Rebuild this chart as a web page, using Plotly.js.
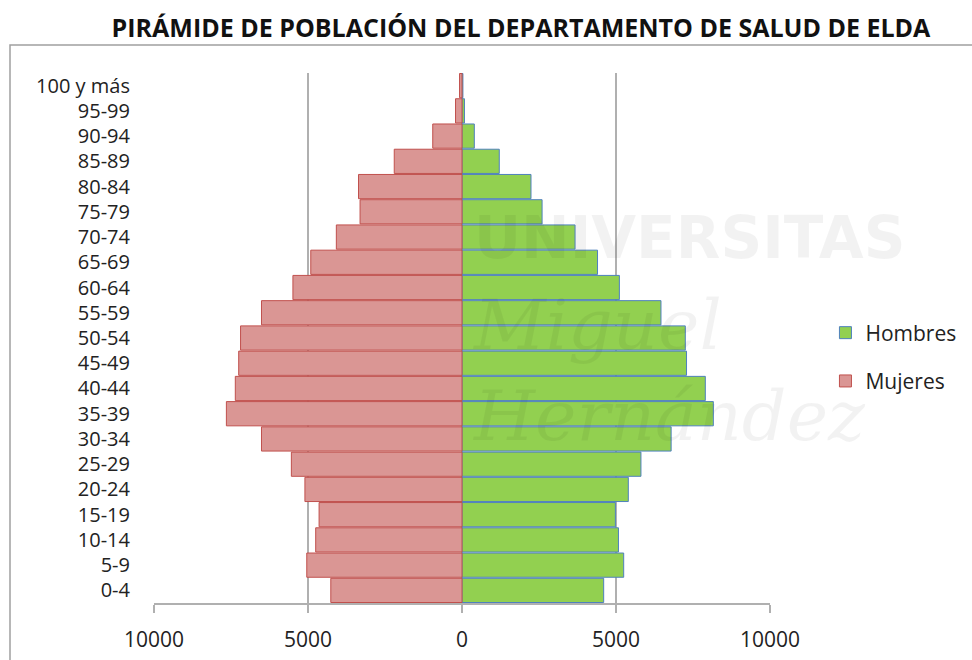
<!DOCTYPE html>
<html>
<head>
<meta charset="utf-8">
<script src="https://cdn.plot.ly/plotly-3.0.1.min.js"></script>
<style>html,body{margin:0;padding:0;background:#fff;}#chart{width:972px;height:660px;}</style>
</head>
<body>
<div id="chart"></div>
<script>
// Age groups, bottom to top
const ageGroups = ["0-4","5-9","10-14","15-19","20-24","25-29","30-34","35-39","40-44","45-49","50-54","55-59","60-64","65-69","70-74","75-79","80-84","85-89","90-94","95-99","100 y más"];
const hombres = [4600,5250,5080,4980,5400,5810,6790,8160,7900,7290,7250,6460,5110,4400,3670,2600,2240,1210,400,80,30];
const mujeres = [4260,5040,4750,4640,5100,5540,6510,7650,7360,7250,7190,6510,5490,4910,4080,3310,3360,2200,950,210,80];
const tickVals = [-10000,-5000,0,5000,10000];
const tickText = ["10000","5000","0","5000","10000"];

const fontFam = "Open Sans, Noto Sans, sans-serif";

const traces = [
  {
    type: "bar", orientation: "h", name: "Hombres",
    y: ageGroups, x: hombres,
    marker: {color: "rgb(146,208,80)", line: {color: "rgb(79,129,189)", width: 1}},
    legendgroup: "h", hoverinfo: "skip"
  },
  {
    type: "bar", orientation: "h", name: "Mujeres",
    y: ageGroups, x: mujeres.map(v => -v),
    marker: {color: "rgb(218,150,148)", line: {color: "rgb(192,80,77)", width: 1}},
    legendgroup: "m", hoverinfo: "skip"
  }
];

const layout = {
  width: 972, height: 660,
  margin: {l: 154, r: 202, t: 73, b: 57, autoexpand: false},
  paper_bgcolor: "#fff", plot_bgcolor: "rgba(0,0,0,0)",
  barmode: "overlay", bargap: 0.04,
  showlegend: true,
  font: {family: fontFam, color: "#222", size: 20},
  title: {
    text: "<b>PIRÁMIDE DE POBLACIÓN DEL DEPARTAMENTO DE SALUD DE ELDA</b>",
    font: {family: fontFam, size: 25, color: "#111"},
    x: 521/972, xanchor: "center", xref: "container",
    y: 1 - 28/660, yanchor: "middle", yref: "container"
  },
  xaxis: {
    range: [-10000, 10000], tickmode: "array", tickvals: tickVals, ticktext: tickText,
    showgrid: true, gridcolor: "#b0b0b0", gridwidth: 1.5,
    zeroline: false, showline: true, linecolor: "#b0b0b0", linewidth: 1.5,
    ticks: "outside", ticklen: 8, tickcolor: "#b0b0b0", tickwidth: 1.5,
    tickfont: {family: fontFam, size: 21, color: "#222"},
    ticklabelstandoff: 9, fixedrange: true
  },
  yaxis: {
    type: "category", categoryorder: "array", categoryarray: ageGroups,
    tickmode: "array", tickvals: ageGroups,
    showgrid: false, zeroline: false, showline: false, ticks: "",
    tickfont: {family: fontFam, size: 20, color: "#222"},
    ticklabelstandoff: 23, fixedrange: true
  },
  legend: {
    x: 1.09, xanchor: "left", y: (603-357)/530, yanchor: "middle",
    font: {family: fontFam, size: 21, color: "#222"},
    traceorder: "grouped", tracegroupgap: 18, itemwidth: 30,
    bgcolor: "rgba(0,0,0,0)"
  },
  shapes: [
    {type: "rect", xref: "paper", yref: "paper", x0: (10-154)/616, x1: (975-154)/616,
     y0: (603-668)/530, y1: (603-45)/530, line: {color: "#a0a0a0", width: 1.5}, fillcolor: "rgba(0,0,0,0)", layer: "below"}
  ],
  annotations: [
    {text: "<b><span style='font-family:DejaVu Sans, sans-serif;font-size:58px'>UNIVERSITAS</span></b><br>" +
           "<i><span style='font-family:DejaVu Serif, serif;font-size:70px'>Miguel</span></i><br>" +
           "<i><span style='font-family:DejaVu Serif, serif;font-size:70px'>Hernández</span></i>",
     xref: "paper", yref: "paper", x: (470-154)/616, xanchor: "left", y: (603-330)/530, yanchor: "middle",
     align: "left", showarrow: false,
     font: {family: "DejaVu Serif, serif", size: 70, color: "rgba(0,0,0,0.05)"}}
  ]
};

Plotly.newPlot("chart", traces, layout, {staticPlot: true, displayModeBar: false});
</script>
</body>
</html>
